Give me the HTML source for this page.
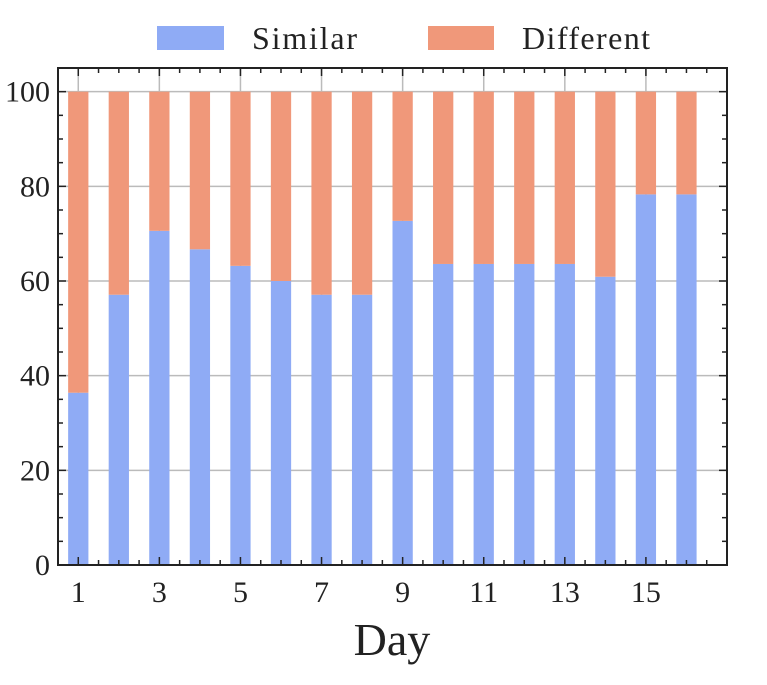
<!DOCTYPE html>
<html><head><meta charset="utf-8"><style>
body{margin:0;background:#fff;}
svg text{font-family:"Liberation Serif",serif;fill:#222;}
</style></head><body>
<svg id="c" width="767" height="680">
<g>
<rect x="157" y="26" width="67" height="24" fill="#8fabf5"/>
<text x="252" y="49" font-size="32" textLength="105">Similar</text>
<rect x="428" y="26" width="66" height="24" fill="#f0987a"/>
<text x="522" y="49" font-size="32" textLength="128">Different</text>
</g>
<g id="grid"></g><g id="bars"></g><g id="axes"></g>
<text x="392" y="655" font-size="46" text-anchor="middle">Day</text>
</svg>
<script>
const days=[1,2,3,4,5,6,7,8,9,10,11,12,13,14,15,16];
const similar=[36.4,57.1,70.6,66.7,63.2,60.0,57.1,57.1,72.7,63.6,63.6,63.6,63.6,60.9,78.3,78.3];
const different=[63.6,42.9,29.4,33.3,36.8,40.0,42.9,42.9,27.3,36.4,36.4,36.4,36.4,39.1,21.7,21.7];
const xTicks=[1,3,5,7,9,11,13,15];
const yTicks=[0,20,40,60,80,100];
const L=58,R=727,T=68,B=565;
const x=d=>L+(d-0.5)/(17-0.5)*(R-L);
const y=v=>B-v/105*(B-T);
const NS="http://www.w3.org/2000/svg";
function mk(p,t,a){const e=document.createElementNS(NS,t);for(const k in a)e.setAttribute(k,a[k]);p.appendChild(e);return e;}
const g=document.getElementById('grid'),b=document.getElementById('bars'),ax=document.getElementById('axes');
yTicks.forEach(v=>{const l=mk(g,'line',{x1:L,x2:R,y1:y(v),y2:y(v),stroke:'#bbb','stroke-width':1.5});

});
xTicks.forEach(v=>{const l=mk(g,'line',{x1:x(v),x2:x(v),y1:T,y2:B,stroke:'#bbb','stroke-width':1.5});

});
const bw=x(1.25)-x(0.75);
days.forEach((d,i)=>{
const r1=mk(b,'rect',{x:x(d)-bw/2,y:y(similar[i]),width:bw,height:y(0)-y(similar[i]),fill:'#8fabf5'});


const top=similar[i]+different[i];
const r2=mk(b,'rect',{x:x(d)-bw/2,y:y(top),width:bw,height:y(similar[i])-y(top),fill:'#f0987a'});


});
const fr=mk(ax,'rect',{x:L,y:T,width:R-L,height:B-T,fill:'none',stroke:'#222','stroke-width':2});


for(let v=0;v<=105;v+=5){const len=v%20==0?8:5;
mk(ax,'line',{x1:L,x2:L+len,y1:y(v),y2:y(v),stroke:'#222','stroke-width':1.5});
mk(ax,'line',{x1:R,x2:R-len,y1:y(v),y2:y(v),stroke:'#222','stroke-width':1.5});}
for(let d=1;d<=17;d+=0.5){const len=(d%2==1)?8:5;
mk(ax,'line',{x1:x(d),x2:x(d),y1:B,y2:B-len,stroke:'#222','stroke-width':1.5});
mk(ax,'line',{x1:x(d),x2:x(d),y1:T,y2:T+len,stroke:'#222','stroke-width':1.5});}
yTicks.forEach(v=>{const t=mk(ax,'text',{x:L-8,y:y(v)+10,'font-size':30,'text-anchor':'end'});t.textContent=v;

});
xTicks.forEach(v=>{const t=mk(ax,'text',{x:x(v),y:B+37,'font-size':30,'text-anchor':'middle'});t.textContent=v;

});
</script>
</body></html>
